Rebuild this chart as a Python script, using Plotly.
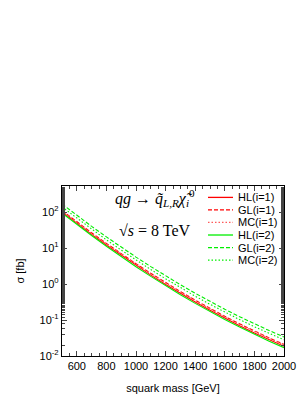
import plotly.graph_objects as go

mass = [500, 600, 700, 800, 900, 1000, 1100, 1200, 1300, 1400, 1500, 1600, 1700, 1800, 1900, 2000]

hl_i1 = [102, 49, 24.2, 12.2, 6.3, 3.3, 1.78, 0.98, 0.552, 0.318, 0.187, 0.113, 0.0698, 0.0438, 0.0283, 0.0186]
gl_i1 = [112, 54, 26.8, 13.6, 7.0, 3.7, 2.0, 1.10, 0.62, 0.357, 0.211, 0.127, 0.0786, 0.0495, 0.0318, 0.0210]
mc_i1 = [108, 52, 25.8, 13.0, 6.75, 3.55, 1.92, 1.06, 0.597, 0.344, 0.203, 0.122, 0.0757, 0.0477, 0.0306, 0.0202]
hl_i2 = [95.5, 45.8, 22.5, 11.3, 5.8, 3.05, 1.64, 0.90, 0.506, 0.291, 0.171, 0.103, 0.0637, 0.040, 0.0258, 0.0170]
gl_i2 = [170, 82, 40.5, 20.6, 10.7, 5.65, 3.07, 1.70, 0.962, 0.556, 0.329, 0.199, 0.124, 0.0785, 0.0509, 0.0338]
mc_i2 = [140, 68, 33.6, 17.0, 8.85, 4.68, 2.54, 1.41, 0.80, 0.463, 0.274, 0.166, 0.103, 0.0653, 0.0423, 0.0281]

names = ["HL(i=1)", "GL(i=1)", "MC(i=1)", "HL(i=2)", "GL(i=2)", "MC(i=2)"]
values = [hl_i1, gl_i1, mc_i1, hl_i2, gl_i2, mc_i2]
colors = ["#ff0000", "#ff0000", "#ff5a5a", "#00ee00", "#00ee00", "#00ee00"]
dashes = ["solid", "4px,2px", "1.5px,2px", "solid", "4px,2px", "1.5px,2px"]

ytickvals = [0.01, 0.1, 1, 10, 100]
yticktext = ["10<sup>-2</sup>", "10<sup>-1</sup>", "10<sup>0</sup>", "10<sup>1</sup>", "10<sup>2</sup>"]
xtickvals = [600, 800, 1000, 1200, 1400, 1600, 1800, 2000]

fig = go.Figure()
for name, vals, col, dash in zip(names, values, colors, dashes):
    fig.add_trace(go.Scatter(x=mass, y=vals, mode="lines", name=name,
                             line=dict(color=col, dash=dash, width=1.1)))

font = dict(family="Liberation Sans, Arial, sans-serif", size=11, color="black")
fig.update_layout(
    width=306, height=396,
    margin=dict(l=54, r=30, t=178, b=39),
    paper_bgcolor="white", plot_bgcolor="white",
    font=font,
    showlegend=False,
    xaxis=dict(range=[500, 2000], tickvals=xtickvals, ticks="inside", ticklen=5,
               showline=True, linecolor="black", linewidth=1.3, mirror="allticks",
               showgrid=False, zeroline=False,
               minor=dict(ticks="inside", ticklen=3, dtick=50, tick0=500, showgrid=False),
               title=dict(text="squark mass [GeV]", font=dict(size=11), standoff=12)),
    yaxis=dict(type="log", range=[-2, 2.73], tickvals=ytickvals, ticktext=yticktext,
               ticks="inside", ticklen=5,
               showline=True, linecolor="black", linewidth=1.3, mirror="allticks",
               showgrid=False, zeroline=False,
               minor=dict(ticks="inside", ticklen=3, showgrid=False),
               title=dict(text="σ [fb]", font=dict(size=11), standoff=12)),
)

# manual legend (compact spacing as in the reference)
x0_px, x1_px, xt_px = 200, 225, 228
y_start, y_step = 190, 13.2
def px2paper_x(px):
    return (px - 54) / 222.0
def px2paper_y(py):
    return (357 - py) / 179.0
for k, (name, col, dash) in enumerate(zip(names, colors, dashes)):
    yp = px2paper_y(y_start + k * y_step)
    fig.add_shape(type="line", xref="paper", yref="paper",
                  x0=px2paper_x(x0_px), x1=px2paper_x(x1_px), y0=yp, y1=yp,
                  line=dict(color=col, dash=dash, width=1.3))
    fig.add_annotation(x=px2paper_x(xt_px), y=yp, xref="paper", yref="paper",
                       xanchor="left", yanchor="middle", showarrow=False,
                       text=name, font=dict(size=11))

fig.add_annotation(x=0.42, y=0.93, xref="paper", yref="paper", xanchor="center", yanchor="middle",
                   showarrow=False,
                   text="<i>qg</i> → <i>q̃</i><sub><i>L,R</i></sub><i>χ̃</i><sub><i>i</i></sub><sup>0</sup>",
                   font=dict(family="Liberation Serif, Times New Roman, serif", size=16))
fig.add_annotation(x=0.42, y=0.74, xref="paper", yref="paper", xanchor="center", yanchor="middle",
                   showarrow=False,
                   text="√<i>s</i> = 8 TeV",
                   font=dict(family="Liberation Serif, Times New Roman, serif", size=16))

fig.write_html("out.html")
